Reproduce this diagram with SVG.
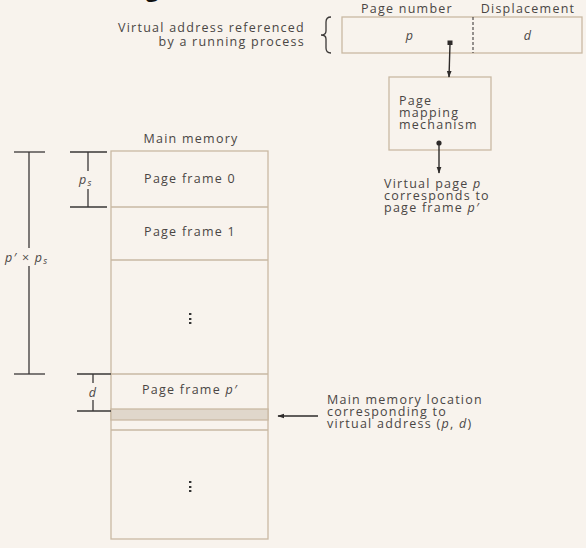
<svg xmlns="http://www.w3.org/2000/svg" width="586" height="548" viewBox="0 0 586 548">
<style>
.t{font-family:"Open Sans","Noto Sans",sans-serif;font-size:12.5px;fill:#4a4644;letter-spacing:1.25px}
.i{font-style:italic}
.box{fill:none;stroke:#c9b9a3;stroke-width:1.3}
.dim{stroke:#3a3736;stroke-width:1.3;fill:none}
.con{stroke:#2e2b2a;stroke-width:1.4;fill:none}
</style>
<defs>
<marker id="ah" viewBox="0 0 10 10" refX="9" refY="5" markerWidth="7" markerHeight="9" markerUnits="userSpaceOnUse" orient="auto">
<path d="M0,1.5 L10,5 L0,8.5 z" fill="#2e2b2a"/>
</marker>
</defs>
<rect width="586" height="548" fill="#f8f3ed"/>
<text x="146" y="-3" style="font-family:'Open Sans',sans-serif;font-size:22px;font-weight:bold;fill:#111">g</text>

<g id="virtual-address">
<text class="t" x="305" y="32" text-anchor="end">Virtual address referenced</text>
<text class="t" x="305" y="46" text-anchor="end">by a running process</text>
<path d="M331,17 Q326,17 326,22 L326,31 Q326,35 321,35 Q326,35 326,39 L326,48 Q326,53 331,53" class="dim" stroke-width="1.1"/>
<text class="t" x="407" y="13" text-anchor="middle">Page number</text>
<text class="t" x="528" y="13" text-anchor="middle">Displacement</text>
<rect class="box" x="342" y="17" width="240" height="36"/>
<line x1="473" y1="17" x2="473" y2="53" stroke="#2e2b2a" stroke-width="1" stroke-dasharray="3,2"/>
<text class="t i" x="410" y="40" text-anchor="middle">p</text>
<text class="t i" x="528" y="40" text-anchor="middle">d</text>
</g>

<g id="page-mapping">
<rect class="box" x="389" y="77" width="102" height="73"/>
<text class="t" x="399" y="105">Page</text>
<text class="t" x="399" y="117">mapping</text>
<text class="t" x="399" y="129">mechanism</text>
</g>

<g id="result-label">
<text class="t" x="384" y="188">Virtual page <tspan class="i">p</tspan></text>
<text class="t" x="384" y="200">corresponds to</text>
<text class="t" x="384" y="212">page frame <tspan class="i">p′</tspan></text>
</g>

<g id="main-memory">
<text class="t" x="191" y="143" text-anchor="middle">Main memory</text>
<rect class="box" x="111" y="151" width="157" height="388"/>
<line class="box" x1="111" y1="207" x2="268" y2="207"/>
<line class="box" x1="111" y1="260" x2="268" y2="260"/>
<line class="box" x1="111" y1="374" x2="268" y2="374"/>
<rect x="111" y="409" width="157" height="11" fill="#e0d7cb" stroke="#c9b9a3" stroke-width="1.3"/>
<line class="box" x1="111" y1="430" x2="268" y2="430"/>
<text class="t" x="190" y="183" text-anchor="middle">Page frame 0</text>
<text class="t" x="190" y="236" text-anchor="middle">Page frame 1</text>
<text class="t" x="190" y="394" text-anchor="middle">Page frame <tspan class="i">p′</tspan></text>
<g fill="#333">
<rect x="189" y="313" width="2.4" height="2"/><rect x="189" y="318" width="2.4" height="2"/><rect x="189" y="322" width="2.4" height="2"/>
<rect x="189" y="481" width="2.4" height="2"/><rect x="189" y="486" width="2.4" height="2"/><rect x="189" y="490" width="2.4" height="2"/>
</g>
</g>

<g id="location-label">
<text class="t" x="327" y="404">Main memory location</text>
<text class="t" x="327" y="416">corresponding to</text>
<text class="t" x="327" y="428">virtual address (<tspan class="i">p</tspan>, <tspan class="i">d</tspan>)</text>
</g>

<g id="dimensions">
<line class="dim" x1="14" y1="152" x2="45" y2="152"/>
<line class="dim" x1="14" y1="374" x2="45" y2="374"/>
<line class="dim" x1="29" y1="152" x2="29" y2="248"/>
<line class="dim" x1="29" y1="266" x2="29" y2="374"/>
<text class="t" x="5" y="262"><tspan class="i">p′</tspan> × <tspan class="i">p</tspan><tspan class="i" font-size="9" dy="2">s</tspan></text>
<line class="dim" x1="70" y1="152" x2="107" y2="152"/>
<line class="dim" x1="70" y1="207" x2="107" y2="207"/>
<line class="dim" x1="88" y1="152" x2="88" y2="171"/>
<line class="dim" x1="88" y1="189" x2="88" y2="207"/>
<text class="t i" x="79" y="184">p<tspan font-size="9" dy="2">s</tspan></text>
<line class="dim" x1="77" y1="374" x2="111" y2="374"/>
<line class="dim" x1="77" y1="411" x2="111" y2="411"/>
<line class="dim" x1="93" y1="374" x2="93" y2="383"/>
<line class="dim" x1="93" y1="400" x2="93" y2="411"/>
<text class="t i" x="93" y="397" text-anchor="middle">d</text>
</g>

<g id="connectors">
<rect x="447.5" y="40.5" width="5" height="4.5" fill="#2e2b2a"/>
<line class="con" x1="450" y1="44" x2="449" y2="77" marker-end="url(#ah)"/>
<circle cx="439" cy="143" r="2.6" fill="#2e2b2a"/>
<line class="con" x1="439" y1="143" x2="439" y2="173" marker-end="url(#ah)"/>
<line class="con" x1="318" y1="416" x2="278" y2="416" marker-end="url(#ah)"/>
</g>
</svg>
